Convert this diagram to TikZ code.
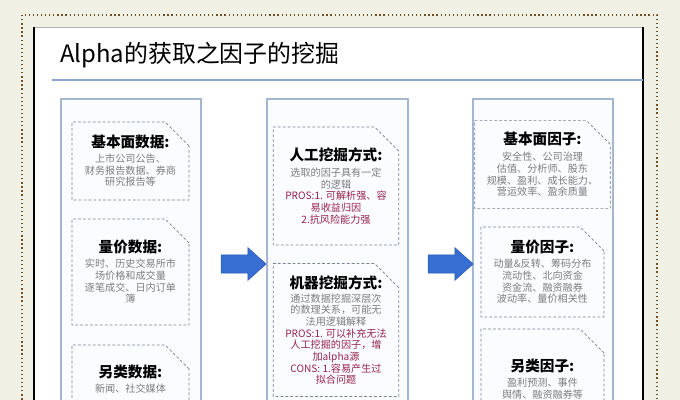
\documentclass[tikz,border=0pt]{standalone}
\usepackage{fontspec}
\setmainfont{Noto Sans CJK SC}
\usetikzlibrary{shapes.misc,shapes.arrows}

\definecolor{bgbeige}{RGB}{240,240,229}
\definecolor{framebrown}{RGB}{110,80,40}
\definecolor{lineblue}{RGB}{140,165,205}
\definecolor{colblue}{RGB}{165,182,208}
\definecolor{colfill}{RGB}{251,252,255}
\definecolor{boxgray}{RGB}{120,130,145}
\definecolor{bodygray}{RGB}{125,125,125}
\definecolor{prosred}{RGB}{150,35,75}
\definecolor{arrowblue}{RGB}{55,110,210}
\definecolor{arrowedge}{RGB}{45,90,180}

\newcommand{\boxhead}[1]{{\color{black}\fontsize{10.4}{12}\selectfont\bfseries #1}}

\begin{document}
\begin{tikzpicture}[
    databox/.style={chamfered rectangle, chamfered rectangle corners=north east,
      chamfered rectangle xsep=0.3cm, chamfered rectangle ysep=0.3cm,
      draw=boxgray, dash pattern=on 2pt off 1.5pt, line width=0.5pt,
      align=center, inner sep=0pt, text=bodygray,
      font=\fontsize{7.2}{8.3}\selectfont},
    colbox/.style={draw=colblue, fill=colfill, line width=1.1pt},
    blockarrow/.style={single arrow, single arrow head extend=0.18cm,
      single arrow tip angle=84, minimum height=1.125cm,
      inner xsep=0pt, inner ysep=0.22cm, fill=arrowblue, draw=arrowedge, line width=0.4pt}]
  \clip (0,0) rectangle (17,10);
  {\footnotesize

  % Background and dotted frame
  \fill [bgbeige] (0,0) rectangle (17,10);%
  \draw [framebrown, dotted, line width=0.9pt] (0.550000,-0.500000) -- (0.550000,9.625000) -- (16.425000,9.625000) -- (16.425000,-0.500000);%

  % White sheet with dark torn edges
  \fill [white] (0.850000,-0.500000) rectangle (16.075000,9.325000);%
  \draw [gray!60, line width=0.3pt] (0.850000,9.325000) -- (16.075000,9.325000);%
  \draw [black, line width=1.1pt] (0.850000,-0.500000) -- (0.850000,9.325000);%
  \draw [black, line width=1.1pt] (16.075000,-0.500000) -- (16.075000,9.325000);%

  % Heading and rule under it
  \draw (1.500000,8.625000) node [anchor=west, inner sep=0pt] (heading) {\fontsize{17}{20}\selectfont Alpha的获取之因子的挖掘};%
  \draw [lineblue, line width=0.8pt] (1.300000,8.000000) -- (16.075000,8.000000);%

  % Drawing columns
  \draw [colbox] (1.525000,7.525000) rectangle (5.025000,-0.600000);%
  \draw [colbox] (6.675000,7.525000) rectangle (10.200000,-0.600000);%
  \draw [colbox] (11.825000,7.525000) rectangle (15.325000,-0.600000);%

  % Column 1: data sources
  \draw (3.262500,5.975000) node [databox, minimum width=2.925cm, minimum height=1.95cm] (fundata) {\boxhead{基本面数据:}\\[2.2pt]上市公司公告、\\财务报告数据、券商\\研究报告等};%
  \draw (3.262500,3.200000) node [databox, minimum width=2.925cm, minimum height=2.65cm] (pvdata) {\boxhead{量价数据:}\\[2.2pt]实时、历史交易所市\\场价格和成交量\\逐笔成交、日内订单\\簿};%
  \draw (3.262500,0.525000) node [databox, minimum width=2.925cm, minimum height=1.7cm] (altdata) {\boxhead{另类数据:}\\[2.2pt]新闻、社交媒体};%

  % Column 2: mining approaches
  \draw (8.400000,5.350000) node [databox, minimum width=3.05cm, minimum height=2.95cm] (manual) {\boxhead{人工挖掘方式:}\\[3pt]选取的因子具有一定\\的逻辑\\{\color{prosred}PROS:1. 可解析强、容}\\{\color{prosred}易收益归因}\\{\color{prosred}2.抗风险能力强}};%
  \draw (8.400000,1.750000) node [databox, minimum width=3.05cm, minimum height=2.9cm] (machine) {\boxhead{机器挖掘方式:}\\[1.5pt]通过数据挖掘深层次\\的数理关系，可能无\\法用逻辑解释\\{\color{prosred}PROS:1. 可以补充无法}\\{\color{prosred}人工挖掘的因子，增}\\{\color{prosred}加alpha源}\\{\color{prosred}CONS: 1.容易产生过}\\{\color{prosred}拟合问题}};%

  % Column 3: factors
  \draw (13.562500,5.887500) node [databox, minimum width=3.075cm, minimum height=2.125cm] (funfactor) {\boxhead{基本面因子:}\\[3pt]安全性、公司治理\\估值、分析师、股东\\规模、盈利、成长能力、\\营运效率、盈余质量};%
  \draw (13.562500,3.200000) node [databox, minimum width=3.075cm, minimum height=2.25cm] (pvfactor) {\boxhead{量价因子:}\\[2.2pt]动量\&反转、筹码分布\\流动性、北向资金\\资金流、融资融券\\波动率、量价相关性};%
  \draw (13.562500,0.525000) node [databox, minimum width=3.075cm, minimum height=2.5cm] (altfactor) {\boxhead{另类因子:}\\[2.2pt]盈利预测、事件\\舆情、融资融券等};%

  % Drawing block arrows between columns
  \draw (5.962500,3.400000) node [blockarrow] (arrowA) {};%
  \draw (11.137500,3.400000) node [blockarrow] (arrowB) {};%
  }
\end{tikzpicture}
\end{document}
